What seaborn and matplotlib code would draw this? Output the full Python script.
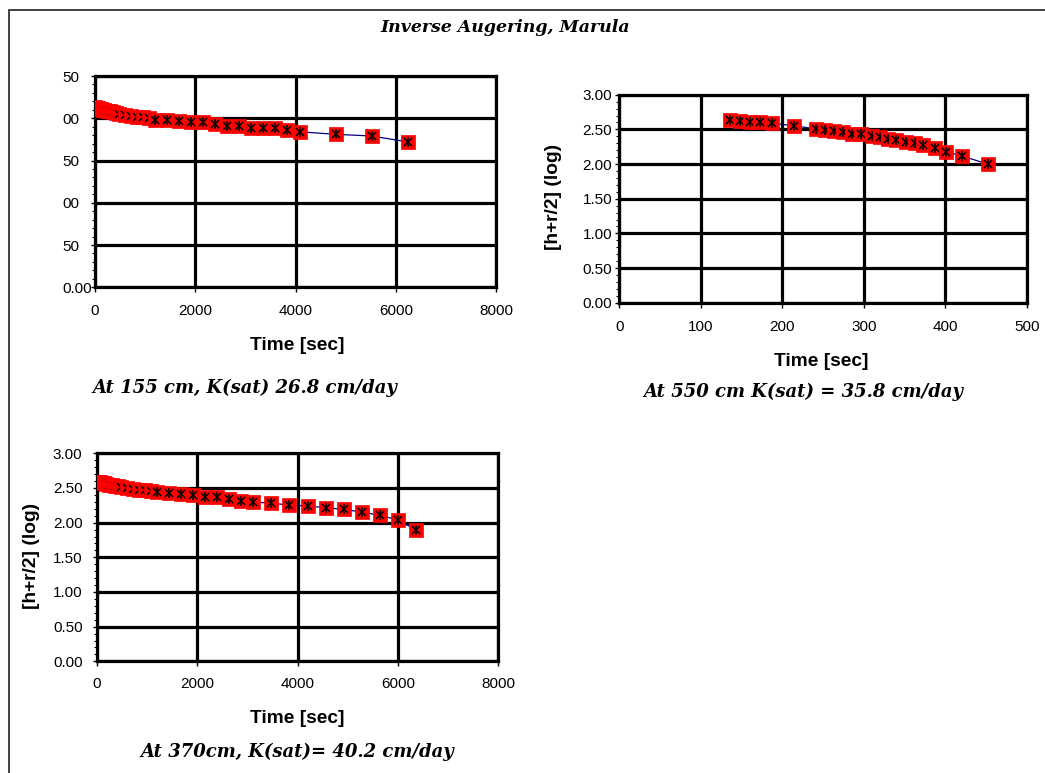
import numpy as np
import pandas as pd
import matplotlib
matplotlib.use("Agg")
import matplotlib.pyplot as plt
from matplotlib.lines import Line2D
from matplotlib.ticker import MultipleLocator, FixedLocator, FixedFormatter
import seaborn as sns

# ---- measurements -------------------------------------------------------
# Test 1: 155 cm depth
time_155 = [0, 30, 60, 90, 120, 150, 180, 240, 300, 360, 420, 480,
            600, 720, 840, 960, 1080, 1200, 1440, 1680, 1920, 2160, 2400,
            2640, 2880, 3120, 3360, 3600, 3840, 4080, 4800, 5520, 6240]
head_155 = [2.13, 2.12, 2.12, 2.11, 2.11, 2.10, 2.10, 2.09, 2.08, 2.07, 2.06, 2.05,
            2.04, 2.03, 2.02, 2.01, 2.00, 1.98, 1.985, 1.97, 1.95, 1.95, 1.93,
            1.91, 1.91, 1.89, 1.89, 1.88, 1.86, 1.84, 1.81, 1.79, 1.72]

# Test 2: 550 cm depth
time_550 = [136, 148, 160, 173, 188, 214, 242, 252, 263, 275, 286, 297,
            310, 320, 330, 340, 352, 363, 373, 387, 401, 421, 452]
head_550 = [2.635, 2.62, 2.60, 2.60, 2.587, 2.553, 2.505, 2.49, 2.48, 2.457, 2.44, 2.43,
            2.41, 2.385, 2.36, 2.34, 2.317, 2.30, 2.274, 2.226, 2.178, 2.115, 2.00]

# Test 3: 370 cm depth
time_370 = [0, 30, 60, 90, 120, 150, 180, 240, 300, 360, 420, 480,
            600, 720, 840, 960, 1080, 1200, 1440, 1680, 1920, 2160, 2400,
            2640, 2880, 3120, 3480, 3840, 4200, 4560, 4920, 5280, 5640, 6000, 6360]
head_370 = [2.59, 2.585, 2.58, 2.575, 2.57, 2.565, 2.56, 2.55, 2.54, 2.535, 2.525, 2.515,
            2.495, 2.485, 2.475, 2.465, 2.455, 2.447, 2.433, 2.41, 2.40, 2.375, 2.365,
            2.34, 2.317, 2.298, 2.279, 2.255, 2.24, 2.216, 2.19, 2.154, 2.106, 2.038, 1.894]

title_text = "Inverse Augering, Marula"
captions = ["At 155 cm, K(sat) 26.8 cm/day",
            "At 550 cm K(sat) = 35.8 cm/day",
            "At 370cm, K(sat)= 40.2 cm/day"]
x_label = "Time [sec]"
y_label = "[h+r/2] (log)"

# y tick text of the first panel (the leading digits are cut off there)
ticks_155 = [0.0, 0.5, 1.0, 1.5, 2.0, 2.5]
ticklabels_155 = ["0.00", "50", "00", "50", "00", "50"]

# ---- styling ------------------------------------------------------------
sns.set_theme(style="white")
plt.rcParams["font.family"] = ["Liberation Sans", "DejaVu Sans"]
plt.rcParams["axes.unicode_minus"] = False
plt.rcParams["text.color"] = "black"
plt.rcParams["axes.labelcolor"] = "black"
plt.rcParams["xtick.color"] = "black"
plt.rcParams["ytick.color"] = "black"

W, H = 1045, 773
fig = plt.figure(figsize=(W / 100, H / 100), dpi=100, facecolor="white")


def fx(px):
    return px / W


def fy(py):
    return 1 - py / H


def make_axes(left, top, right, bottom):
    return fig.add_axes([fx(left), fy(bottom), fx(right - left), (bottom - top) / H])


ax1 = make_axes(95, 76, 496, 287.3)
ax2 = make_axes(619.3, 94.7, 1026.7, 302.7)
ax3 = make_axes(96.7, 453.3, 498.3, 661.3)

RED = "#ff0000"
NAVY = "#000080"
serif_bi = dict(family=["DejaVu Serif"], weight="bold", style="italic", color="black")
TICK_FS = 11
LABEL_FS = 13.8


def draw_series(ax, t, h):
    df = pd.DataFrame({"t": t, "h": h})
    sns.lineplot(data=df, x="t", y="h", ax=ax, color=NAVY, lw=0.9,
                 estimator=None, sort=False, zorder=2)
    # each point: red square with a black asterisk, drawn point by point
    for ti, hi in zip(t, h):
        ax.plot([ti], [hi], marker="s", ms=10, mfc=RED, mec=RED, mew=0.5,
                ls="none", zorder=3)
        ax.plot([ti], [hi], marker="x", ms=5.5, mec="black", mew=1.1,
                ls="none", zorder=3)
        ax.plot([ti], [hi], marker="|", ms=6.5, mec="black", mew=1.1,
                ls="none", zorder=3)


def style_axes(ax, xmax, xstep, ymax, ypad, xpad):
    ax.set_xlim(0, xmax)
    ax.set_ylim(0, ymax)
    ax.xaxis.set_major_locator(MultipleLocator(xstep))
    ax.yaxis.set_major_locator(MultipleLocator(0.5))
    ax.yaxis.set_minor_locator(MultipleLocator(0.1))
    ax.yaxis.set_major_formatter(matplotlib.ticker.FormatStrFormatter("%.2f"))
    ax.grid(True, which="major", color="black", lw=2.3, zorder=0)
    ax.grid(False, which="minor")
    ax.set_axisbelow(True)
    for s in ax.spines.values():
        s.set_color("black")
        s.set_linewidth(2.3)
    ax.tick_params(axis="x", which="major", direction="out", length=3.6, width=1.0,
                   color="black", labelsize=TICK_FS, pad=xpad, bottom=True, labelcolor="black")
    ax.tick_params(axis="y", which="major", direction="out", length=3.2, width=1.0,
                   color="black", labelsize=TICK_FS, pad=ypad, left=True, labelcolor="black")
    ax.tick_params(axis="y", which="minor", direction="out", length=2.0, width=0.8,
                   color="black", left=True)
    ax.set_xlabel("")
    ax.set_ylabel("")


draw_series(ax1, time_155, head_155)
draw_series(ax2, time_550, head_550)
draw_series(ax3, time_370, head_370)

style_axes(ax1, 8000, 2000, 2.5, 20.5, 8.2)
style_axes(ax2, 500, 100, 3.0, 2.0, 9.0)
style_axes(ax3, 8000, 2000, 3.0, 7.0, 7.8)

ax1.yaxis.set_major_locator(FixedLocator(ticks_155))
ax1.yaxis.set_major_formatter(FixedFormatter(ticklabels_155))
for lab in ax1.get_yticklabels():
    lab.set_horizontalalignment("left")

# axis titles
for ax, (cx, cy) in [(ax1, (297, 345.5)), (ax2, (821, 362)), (ax3, (297, 718.5))]:
    ax.set_xlabel(x_label, fontsize=LABEL_FS, fontweight="bold", color="black")
    ax.xaxis.set_label_coords(fx(cx), fy(cy), transform=fig.transFigure)
    ax.xaxis.label.set_va("center")

for ax, (cx, cy) in [(ax2, (554, 196.5)), (ax3, (31.7, 556))]:
    ax.set_ylabel(y_label, fontsize=LABEL_FS, fontweight="bold", color="black")
    ax.yaxis.set_label_coords(fx(cx), fy(cy), transform=fig.transFigure)
    ax.yaxis.label.set_va("center")
    ax.yaxis.label.set_ha("center")

# captions and heading
fig.text(fx(505), fy(27), title_text, ha="center", va="center", fontsize=12.5, **serif_bi)
for (cx, cy), txt in zip([(245, 388), (803.5, 392), (297.5, 752)], captions):
    fig.text(fx(cx), fy(cy), txt, ha="center", va="center", fontsize=13, **serif_bi)

# outer frame (top and left edges)
frame_kw = dict(color="#404040", lw=1.4, transform=fig.transFigure)
fig.add_artist(Line2D([fx(9), 1.0], [fy(10), fy(10)], **frame_kw))
fig.add_artist(Line2D([fx(9), fx(9)], [0.0, fy(10)], **frame_kw))

fig.savefig("out.png", dpi=100, facecolor="white")
